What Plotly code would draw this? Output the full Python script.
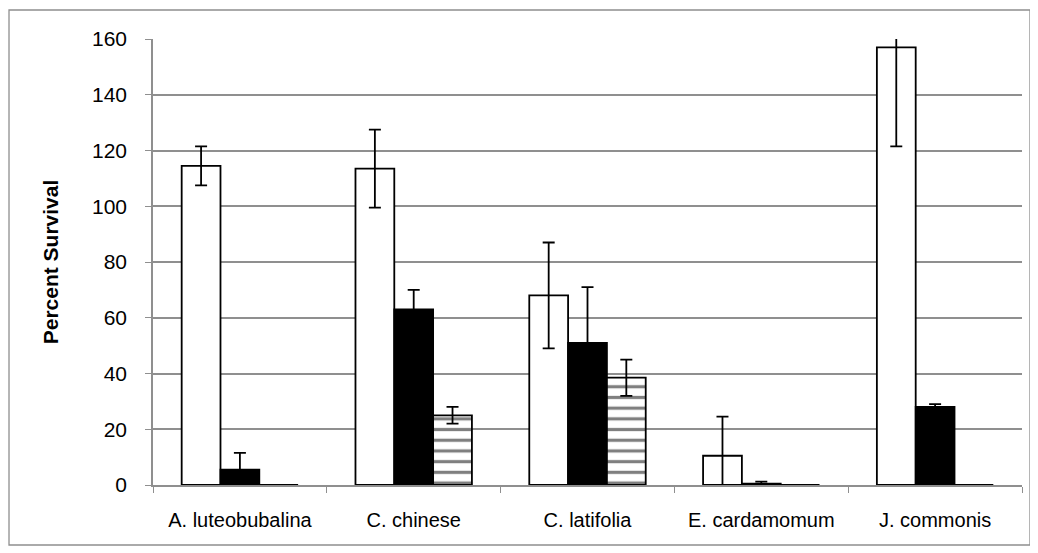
import plotly.graph_objects as go

categories = ["A. luteobubalina", "C. chinese", "C. latifolia", "E. cardamomum", "J. commonis"]
white_vals = [114.5, 113.5, 68, 10.5, 157]
white_err = [7, 14, 19, 14, 35.5]
black_vals = [5.5, 63, 51, 0.5, 28]
black_err = [6, 7, 20, 0.7, 1]
striped_vals = [0, 25, 38.5, 0, 0]
striped_err = [0, 3, 6.5, 0, 0]

err_style = dict(type="data", visible=True, color="black", thickness=1.8, width=6)

fig = go.Figure()
fig.add_trace(go.Bar(
    x=categories, y=white_vals, name="white",
    marker=dict(color="white", line=dict(color="black", width=1.8)),
    error_y=dict(array=white_err, **err_style),
))
fig.add_trace(go.Bar(
    x=categories, y=black_vals, name="black",
    marker=dict(color="black", line=dict(color="black", width=1.8)),
    error_y=dict(array=black_err, **err_style),
))
fig.add_trace(go.Bar(
    x=categories, y=striped_vals, name="striped",
    marker=dict(color="white", line=dict(color="black", width=1.8),
                pattern=dict(shape="-", fgcolor="black", bgcolor="white", size=10.7, solidity=0.3)),
    error_y=dict(array=striped_err, **err_style),
))

fig.update_layout(
    width=1024, height=539,
    margin=dict(l=145, r=10, t=31, b=62),
    paper_bgcolor="white", plot_bgcolor="white",
    barmode="group", bargap=0.33, bargroupgap=0,
    showlegend=False,
    font=dict(family="Liberation Sans, Arial, sans-serif", color="black"),
)
fig.update_yaxes(
    range=[0, 160], dtick=20, showgrid=True, gridcolor="#8f8f8f", gridwidth=1.5,
    showline=True, linecolor="#8f8f8f", linewidth=1.5,
    ticks="outside", ticklen=6, tickcolor="#8f8f8f",
    tickfont=dict(size=21), ticklabelstandoff=14,
    zeroline=False,
    title=dict(text="<b>Percent Survival</b>", font=dict(size=21), standoff=28),
)
fig.update_xaxes(
    showline=True, linecolor="#8f8f8f", linewidth=1.5,
    ticks="outside", ticklen=6, tickcolor="#8f8f8f", tickson="boundaries",
    tickfont=dict(size=20), ticklabelstandoff=16,
)
fig.add_shape(type="rect", xref="paper", yref="paper",
              x0=-0.1657, x1=1.0092, y0=-0.1345, y1=1.065,
              line=dict(color="#8f8f8f", width=1.3), fillcolor="rgba(0,0,0,0)", layer="below")

fig.write_html("out.html")
